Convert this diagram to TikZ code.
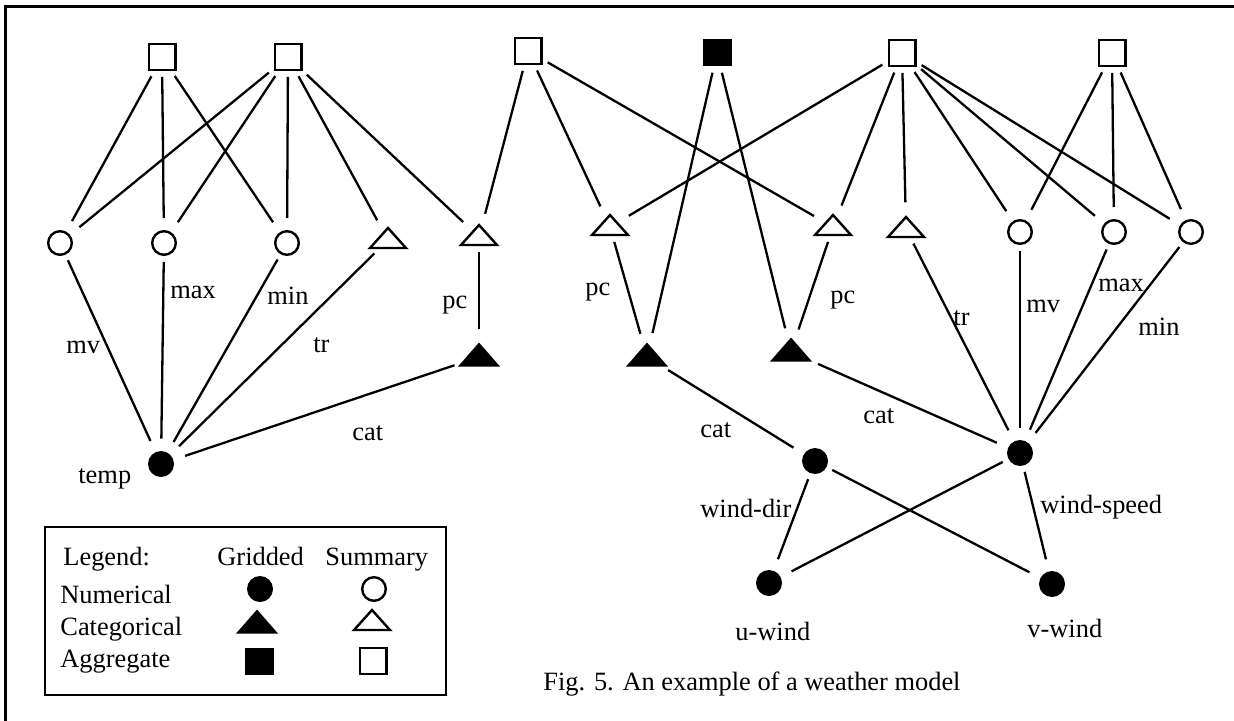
\documentclass[tikz,border=0pt]{standalone}
\usepackage{fontspec}
\setmainfont{Liberation Serif}
\usetikzlibrary{shapes.geometric}

\tikzset{
  nums/.style={circle, draw, line width=1.2pt, minimum size=11.8pt, inner sep=0pt},
  numg/.style={circle, fill, minimum size=13pt, inner sep=0pt},
  cats/.style={isosceles triangle, isosceles triangle stretches, shape border rotate=90, draw, line width=1.2pt, minimum width=18pt, minimum height=10pt, inner sep=0pt},
  catg/.style={isosceles triangle, isosceles triangle stretches, shape border rotate=90, fill, minimum width=21pt, minimum height=12pt, inner sep=0pt},
  aggs/.style={rectangle, draw, line width=1.2pt, minimum width=13.3pt, minimum height=12.8pt, inner sep=0pt},
  aggg/.style={rectangle, fill, minimum width=14.5pt, minimum height=13.5pt, inner sep=0pt},
  lbl/.style={anchor=base west, inner sep=0pt},
  link/.style={line width=1.15pt, shorten <=3pt, shorten >=6pt},
}

\begin{document}
\begin{tikzpicture}[x=0.5pt, y=-0.5pt, font=\fontsize{13.2}{15}\selectfont]
        \useasboundingbox (0,0) rectangle (1234,721);
        \draw[line width=1.5pt] (5.5,721) -- (5.5,6.5) -- (1234,6.5);
        % aggregates
        \node[aggs] (s1) at (162,57) {};
        \node[aggs] (s2) at (288,57) {};
        \node[aggs] (s3) at (528,51) {};
        \node[aggg] (s4) at (717,53) {};
        \node[aggs] (s5) at (902,53) {};
        \node[aggs] (s6) at (1112,53) {};
        % summaries
        \node[nums] (c1) at (60,243) {};
        \node[nums] (c2) at (164,243) {};
        \node[nums] (c3) at (287,243) {};
        \node[cats] (t1) at (388,240) {};
        \node[cats] (t2) at (479,237) {};
        \node[cats] (t3) at (610,227) {};
        \node[cats] (t4) at (833,227) {};
        \node[cats] (t5) at (906,229) {};
        \node[nums] (c4) at (1020,232) {};
        \node[nums] (c5) at (1114,232) {};
        \node[nums] (c6) at (1191,232) {};
        % gridded
        \node[catg] (f1) at (479,357) {};
        \node[catg] (f2) at (647,357) {};
        \node[catg] (f3) at (791,352) {};
        \node[numg] (temp) at (161,464) {};
        \node[numg] (wdir) at (815,461) {};
        \node[numg] (wspd) at (1020,453) {};
        \node[numg] (uw) at (769,583) {};
        \node[numg] (vw) at (1052,584) {};
        % top links
        \draw[link] (s1) -- (c1);
        \draw[link] (s1) -- (c2);
        \draw[link] (s1) -- (c3);
        \draw[link] (s2) -- (c1);
        \draw[link] (s2) -- (c2);
        \draw[link] (s2) -- (c3);
        \draw[link] (s2) -- (t1);
        \draw[link] (s2) -- (t2);
        \draw[link] (s3) -- (t2);
        \draw[link] (s3) -- (t3);
        \draw[link] (s3) -- (t4);
        \draw[link] (s4) -- (f2);
        \draw[link] (s4) -- (f3);
        \draw[link] (s5) -- (t3);
        \draw[link] (s5) -- (t4);
        \draw[link] (s5) -- (t5);
        \draw[link] (s5) -- (c4);
        \draw[link] (s5) -- (c5);
        \draw[link] (s5) -- (c6);
        \draw[link] (s6) -- (c4);
        \draw[link] (s6) -- (c5);
        \draw[link] (s6) -- (c6);
        % lower links
        \draw[link] (c1) -- (temp);
        \draw[link] (c2) -- (temp);
        \draw[link] (c3) -- (temp);
        \draw[link] (t1) -- (temp);
        \draw[link] (f1) -- (temp);
        \draw[link] (t2) -- (f1);
        \draw[link] (t3) -- (f2);
        \draw[link] (t4) -- (f3);
        \draw[link] (f2) -- (wdir);
        \draw[link] (f3) -- (wspd);
        \draw[link] (t5) -- (wspd);
        \draw[link] (c4) -- (wspd);
        \draw[link] (c5) -- (wspd);
        \draw[link] (c6) -- (wspd);
        \draw[link] (wdir) -- (uw);
        \draw[link] (wdir) -- (vw);
        \draw[link] (wspd) -- (uw);
        \draw[link] (wspd) -- (vw);
        % labels
        \node[lbl] (ltemp) at (78,483) {temp};
        \node[lbl] (lmv1) at (66,353) {mv};
        \node[lbl] (lmax1) at (170,299) {max};
        \node[lbl] (lmin1) at (267,304) {min};
        \node[lbl] (ltr1) at (313,352) {tr};
        \node[lbl] (lpc1) at (442,308) {pc};
        \node[lbl] (lcat1) at (352,440) {cat};
        \node[lbl] (lpc2) at (585,295) {pc};
        \node[lbl] (lpc3) at (830,303) {pc};
        \node[lbl] (lcat2) at (700,437) {cat};
        \node[lbl] (lcat3) at (863,423) {cat};
        \node[lbl] (lwdir) at (700,517) {wind-dir};
        \node[lbl] (luw) at (735,640) {u-wind};
        \node[lbl] (ltr2) at (953,325) {tr};
        \node[lbl] (lmv2) at (1026,313) {mv};
        \node[lbl] (lmax2) at (1098,292) {max};
        \node[lbl] (lmin2) at (1138,335) {min};
        \node[lbl] (lwspd) at (1040,513) {wind-speed};
        \node[lbl] (lvw) at (1027,637) {v-wind};
        \node[lbl] (cap) at (543,690) {Fig. 5. An example of a weather model};
        % legend
        \draw[line width=1.3pt] (45,527) rectangle (446,695);
        \node[lbl] (lleg) at (63,565) {Legend:};
        \node[lbl] (lgrid) at (217,565) {Gridded};
        \node[lbl] (lsum) at (325,565) {Summary};
        \node[lbl] (lnum) at (60,603) {Numerical};
        \node[lbl] (lcat) at (60,635) {Categorical};
        \node[lbl] (lagg) at (60,667) {Aggregate};
        \node[numg] (kng) at (260,589) {};
        \node[nums] (kns) at (374,589) {};
        \node[catg] (kcg) at (257,624) {};
        \node[cats] (kcs) at (372,622) {};
        \node[aggg] (kag) at (259,661) {};
        \node[aggs] (kas) at (373,661) {};
\end{tikzpicture}
\end{document}
